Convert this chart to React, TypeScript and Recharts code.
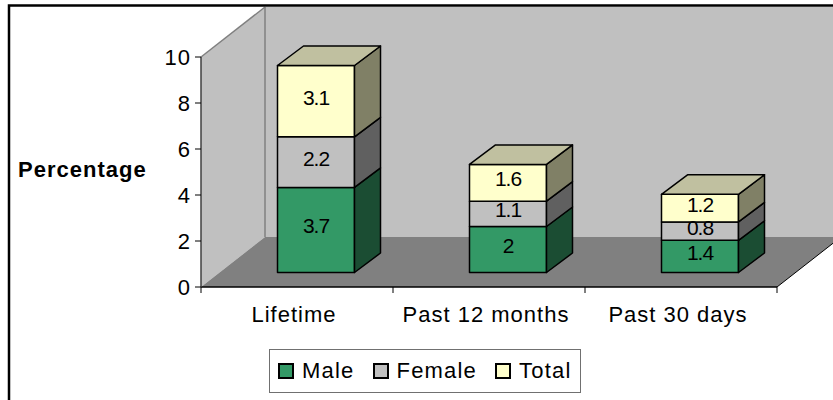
import { BarChart, Bar, XAxis, YAxis } from "recharts";

const categories = ["Lifetime", "Past 12 months", "Past 30 days"];
const male = [3.7, 2, 1.4];
const female = [2.2, 1.1, 0.8];
const total = [3.1, 1.6, 1.2];
const yTicks = [0, 2, 4, 6, 8, 10];

const data = categories.map((name, i) => ({
    name,
    male: male[i],
    female: female[i],
    total: total[i],
}));

const W = 833;
const H = 400;
const PL = 201; // front plane of the plot
const PR = 777;
const PT = 57;
const PB = 287;
const DX = 64; // depth of the 3d box
const DY = -50;
const FONT = "Arial, 'Liberation Sans', sans-serif";

// bar sits in the middle of the depth
const BX0 = 18.5;
const BY0 = -14.5;
const BXD = 26;
const BYD = -19.5;

const COLORS = {
    male: { front: "#339966", side: "#1B4D33", top: "#267350" },
    female: { front: "#C0C0C0", side: "#606060", top: "#A0A0A0" },
    total: { front: "#FFFFCC", side: "#808066", top: "#C0C0A0" },
};

function makeShape(c: { front: string; side: string; top: string }, withTop: boolean) {
    return (props: any) => {
        const { x, y, width, height } = props;
        const fx = x + BX0;
        const fy = y + BY0;
        const pts = (a: number[][]) => a.map((p) => p.join(",")).join(" ");
        return (
            <g stroke="#000" strokeWidth={1.5} strokeLinejoin="round">
                <rect x={fx} y={fy} width={width} height={height} fill={c.front} />
                <polygon
                    fill={c.side}
                    points={pts([
                        [fx + width, fy],
                        [fx + width + BXD, fy + BYD],
                        [fx + width + BXD, fy + height + BYD],
                        [fx + width, fy + height],
                    ])}
                />
                {withTop && (
                    <polygon
                        fill={c.top}
                        points={pts([
                            [fx, fy],
                            [fx + BXD, fy + BYD],
                            [fx + width + BXD, fy + BYD],
                            [fx + width, fy],
                        ])}
                    />
                )}
            </g>
        );
    };
}

// stacked bars pass the cumulative value, so read the segment value from its own list
const makeLabel = (values: number[]) => (props: any) => {
    const { x, y, width, height, index } = props;
    return (
        <text
            x={x + width / 2 + BX0}
            y={y + height / 2 + BY0 - 4}
            textAnchor="middle"
            dominantBaseline="central"
            fontFamily={FONT}
            fontSize={21}
            letterSpacing={-1}
            fill="#000"
        >
            {values[index]}
        </text>
    );
};

const CategoryTick = (props: any) => {
    const { x, payload, index } = props;
    const band = (PR - PL) / categories.length;
    return (
        <g>
            <line x1={x - band / 2} x2={x - band / 2} y1={PB} y2={PB + 6} stroke="#000" />
            {index === categories.length - 1 && (
                <line x1={x + band / 2} x2={x + band / 2} y1={PB} y2={PB + 6} stroke="#000" />
            )}
            <text x={x - 3} y={PB + 35} textAnchor="middle" fontFamily={FONT} fontSize={22} letterSpacing={1} fill="#000">
                {payload.value}
            </text>
        </g>
    );
};

function Walls() {
    return (
        <svg width={W} height={H} style={{ position: "absolute", left: 0, top: 0 }}>
            <rect x={PL + DX} y={PT + DY} width={PR - PL + 10} height={PB - PT} fill="#C0C0C0" />
            <polygon
                points={`${PL},${PT} ${PL + DX},${PT + DY} ${PL + DX},${PB + DY} ${PL},${PB}`}
                fill="#C0C0C0"
            />
            <polygon
                points={`${PL},${PB} ${PL + DX},${PB + DY} ${PR + DX},${PB + DY} ${PR},${PB}`}
                fill="#808080"
            />
            <line x1={PL} y1={PT} x2={PL + DX} y2={PT + DY} stroke="#808080" strokeWidth={1.5} />
            <line x1={PL + DX} y1={PT + DY} x2={PL + DX} y2={PB + DY} stroke="#808080" strokeWidth={1.5} />
            <line x1={PR} y1={PB} x2={PR + DX} y2={PB + DY} stroke="#000" strokeWidth={1} />
            <polyline points={`9,${H + 5} 9,5.5 ${W + 5},5.5`} fill="none" stroke="#000" strokeWidth={2.5} />
        </svg>
    );
}

const legendItems = [
    { label: "Male", color: COLORS.male.front },
    { label: "Female", color: COLORS.female.front },
    { label: "Total", color: COLORS.total.front },
];

function LegendBox() {
    return (
        <div
            style={{
                position: "absolute",
                left: 269,
                top: 349,
                width: 312,
                height: 44,
                border: "1px solid #707070",
                display: "flex",
                alignItems: "center",
                paddingLeft: 8,
                boxSizing: "border-box",
                fontFamily: FONT,
                fontSize: 22,
                letterSpacing: 1.2,
            }}
        >
            {legendItems.map((it) => (
                <div key={it.label} style={{ display: "flex", alignItems: "center", marginRight: 18 }}>
                    <span
                        style={{
                            width: 12,
                            height: 12,
                            background: it.color,
                            border: "2px solid #000",
                            marginRight: 8,
                            display: "inline-block",
                        }}
                    />
                    <span>{it.label}</span>
                </div>
            ))}
        </div>
    );
}

export default function App() {
    return (
        <div style={{ position: "absolute", left: 0, top: 0, width: W, height: H, background: "#fff" }}>
            <Walls />
            <div style={{ position: "absolute", left: 0, top: 0 }}>
                <BarChart
                    width={W}
                    height={H}
                    data={data}
                    margin={{ top: PT, right: W - PR, left: PL - 60, bottom: H - PB - 30 }}
                >
                    <XAxis
                        dataKey="name"
                        height={30}
                        axisLine={{ stroke: "#000", strokeWidth: 1.5 }}
                        tickLine={false}
                        tick={<CategoryTick />}
                        interval={0}
                    />
                    <YAxis
                        width={60}
                        domain={[0, 10]}
                        ticks={yTicks}
                        axisLine={{ stroke: "#404040", strokeWidth: 1.5 }}
                        tickLine={{ stroke: "#000" }}
                        tickSize={6}
                        tickMargin={4}
                        tick={{ fill: "#000", fontFamily: FONT, fontSize: 22, letterSpacing: 1 }}
                        label={() => (
                            <text x={18} y={177} fontFamily={FONT} fontSize={22} fontWeight="bold" letterSpacing={1} fill="#000">
                                Percentage
                            </text>
                        )}
                    />
                    <Bar dataKey="male" stackId="a" barSize={77} isAnimationActive={false} shape={makeShape(COLORS.male, false)} label={makeLabel(male)} />
                    <Bar dataKey="female" stackId="a" barSize={77} isAnimationActive={false} shape={makeShape(COLORS.female, false)} label={makeLabel(female)} />
                    <Bar dataKey="total" stackId="a" barSize={77} isAnimationActive={false} shape={makeShape(COLORS.total, true)} label={makeLabel(total)} />
                </BarChart>
            </div>
            <LegendBox />
        </div>
    );
}
